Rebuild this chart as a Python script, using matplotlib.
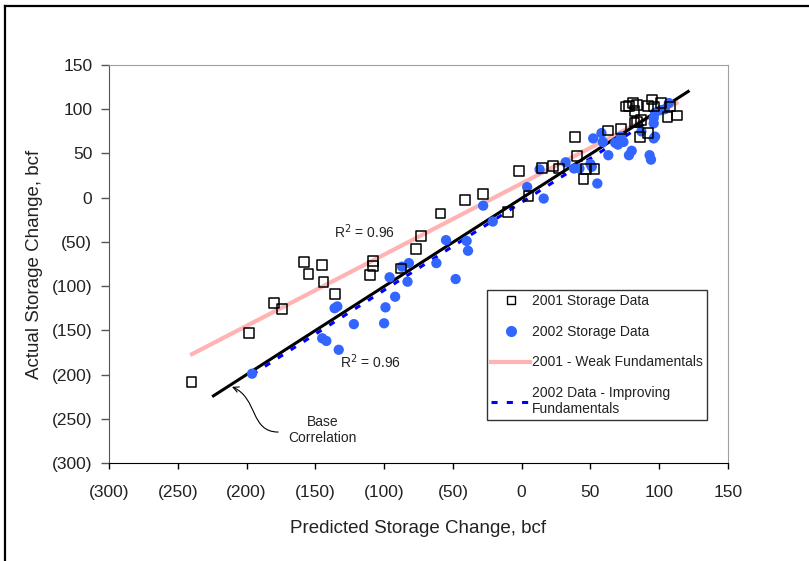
import numpy as np
import matplotlib.pyplot as plt
from matplotlib.ticker import FuncFormatter, MultipleLocator
from matplotlib.lines import Line2D
from matplotlib.patches import FancyArrowPatch
from matplotlib.path import Path

plt.rcParams['font.family'] = ['Liberation Sans', 'DejaVu Sans']

# 2001 storage data (predicted, actual), bcf
x01 = [-240, -198, -180, -174, -158, -155, -145, -144, -136, -108, -108, -110,
       -88, -77, -73, -59, -41, -28, -10, -2, 5, 15, 23, 27, 39, 40, 45, 47, 53,
       63, 72, 76, 78, 81, 82, 84, 86, 82, 84, 87, 92, 92, 95, 96, 101, 106, 108, 113]
y01 = [-208, -153, -119, -126, -73, -86, -76, -95, -109, -72, -77, -87,
       -80, -58, -43, -18, -3, 4, -16, 30, 2, 34, 36, 33, 69, 47, 21, 32, 32,
       76, 78, 103, 104, 107, 98, 105, 69, 85, 86, 88, 73, 104, 111, 103, 107, 91, 103, 93]

# 2002 storage data
x02 = [-196, -145, -142, -133, -136, -134, -122, -100, -99, -92, -96, -87, -82, -83,
       -62, -55, -40, -39, -48, -28, -21, 4, 16, 13, 32, 38, 42, 50, 51, 55, 52, 58,
       59, 63, 68, 70, 72, 74, 78, 80, 87, 93, 94, 96, 97, 96, 96, 97, 101, 104, 107]
y02 = [-199, -159, -162, -172, -125, -123, -143, -142, -124, -112, -90, -78, -74, -95,
       -74, -48, -49, -60, -92, -9, -27, 12, -1, 32, 40, 33, 33, 38, 35, 16, 67, 73,
       63, 48, 62, 60, 69, 63, 48, 53, 75, 48, 43, 67, 69, 84, 90, 96, 99, 100, 107]

# fitted lines
base_x = [-225, 122]
base_y = [-225, 121]
weak_x = [-241, 114]
weak_y = [-178, 108]
impr_x = [-196, 107]
impr_y = [-200, 101]

def paren(v, pos):
    v = int(round(v))
    return f"({-v})" if v < 0 else f"{v}"

fig = plt.figure(figsize=(8.09, 5.61), dpi=100)
ax = fig.add_axes([109/809, 1-463/561, 619/809, 398/561])

ax.plot(weak_x, weak_y, color='#ffb3b3', lw=3, solid_capstyle='butt', zorder=2)
ax.plot(base_x, base_y, color='black', lw=2.2, solid_capstyle='butt', zorder=3)
ax.plot(impr_x, impr_y, color='#0000ff', lw=2.2, ls=(0, (2, 3)), zorder=4)
ax.scatter(x02, y02, s=55, color='#3366ff', edgecolors='none', zorder=5)
ax.scatter(x01, y01, s=50, marker='s', facecolors='none', edgecolors='black',
           linewidths=1.1, zorder=6)

ax.set_xlim(-300, 150)
ax.set_ylim(-300, 150)
ax.xaxis.set_major_locator(MultipleLocator(50))
ax.yaxis.set_major_locator(MultipleLocator(50))
ax.xaxis.set_major_formatter(FuncFormatter(paren))
ax.yaxis.set_major_formatter(FuncFormatter(paren))
ax.tick_params(axis='both', direction='out', width=1, labelsize=12.5,
               labelcolor='#222222')
ax.tick_params(axis='x', length=4.5, pad=11)
ax.tick_params(axis='y', length=6, pad=6, color='#555555')
for s in ['top', 'right']:
    ax.spines[s].set_color('#a0a0a0')
ax.spines['left'].set_color('#555555')
ax.spines['bottom'].set_color('black')

ax.set_xlabel("Predicted Storage Change, bcf", fontsize=13.5, color='#222222', labelpad=15)
ax.set_ylabel("Actual Storage Change, bcf", fontsize=13.5, color='#222222', labelpad=6)

ax.text(-114, -38, "R$^2$ = 0.96", fontsize=10, ha='center', va='center', color='#222222')
ax.text(-110, -185, "R$^2$ = 0.96", fontsize=10, ha='center', va='center', color='#222222')
ax.text(-145, -263, "Base\nCorrelation", fontsize=10, ha='center', va='center',
        color='#222222')

# curved pointer to the base line
arrow_path = Path([(-177, -265), (-197.5, -265), (-191.7, -226.4), (-210.6, -213.9)],
                  [Path.MOVETO, Path.CURVE4, Path.CURVE4, Path.CURVE4])
ax.add_patch(FancyArrowPatch(path=arrow_path, arrowstyle='->', mutation_scale=10,
                             color='black', lw=0.8, transform=ax.transData))

handles = [
    Line2D([], [], ls='none', marker='s', mfc='none', mec='black', ms=6),
    Line2D([], [], ls='none', marker='o', mfc='#3366ff', mec='none', ms=8),
    Line2D([], [], color='#ffb3b3', lw=3),
    Line2D([], [], color='#0000ff', lw=2.2, ls=(0, (2, 3))),
]
labels = ["2001 Storage Data", "2002 Storage Data", "2001 - Weak Fundamentals",
          "2002 Data - Improving\nFundamentals"]
leg = ax.legend(handles, labels, loc='upper left', bbox_to_anchor=(0.611, 0.435),
                fontsize=10, frameon=True, fancybox=False, handlelength=2.8,
                handletextpad=0.1, labelspacing=1.2, borderpad=0.3, borderaxespad=0)
leg.get_frame().set_edgecolor('black')
leg.get_frame().set_linewidth(1)
for t in leg.get_texts():
    t.set_color('#222222')

# page frame fragment
fig.add_artist(Line2D([4.5/809, 4.5/809], [0, 1-5.5/561], color='black', lw=1.6))
fig.add_artist(Line2D([4.5/809, 1], [1-5.5/561, 1-5.5/561], color='black', lw=1.6))

fig.savefig("out.png", dpi=100)
